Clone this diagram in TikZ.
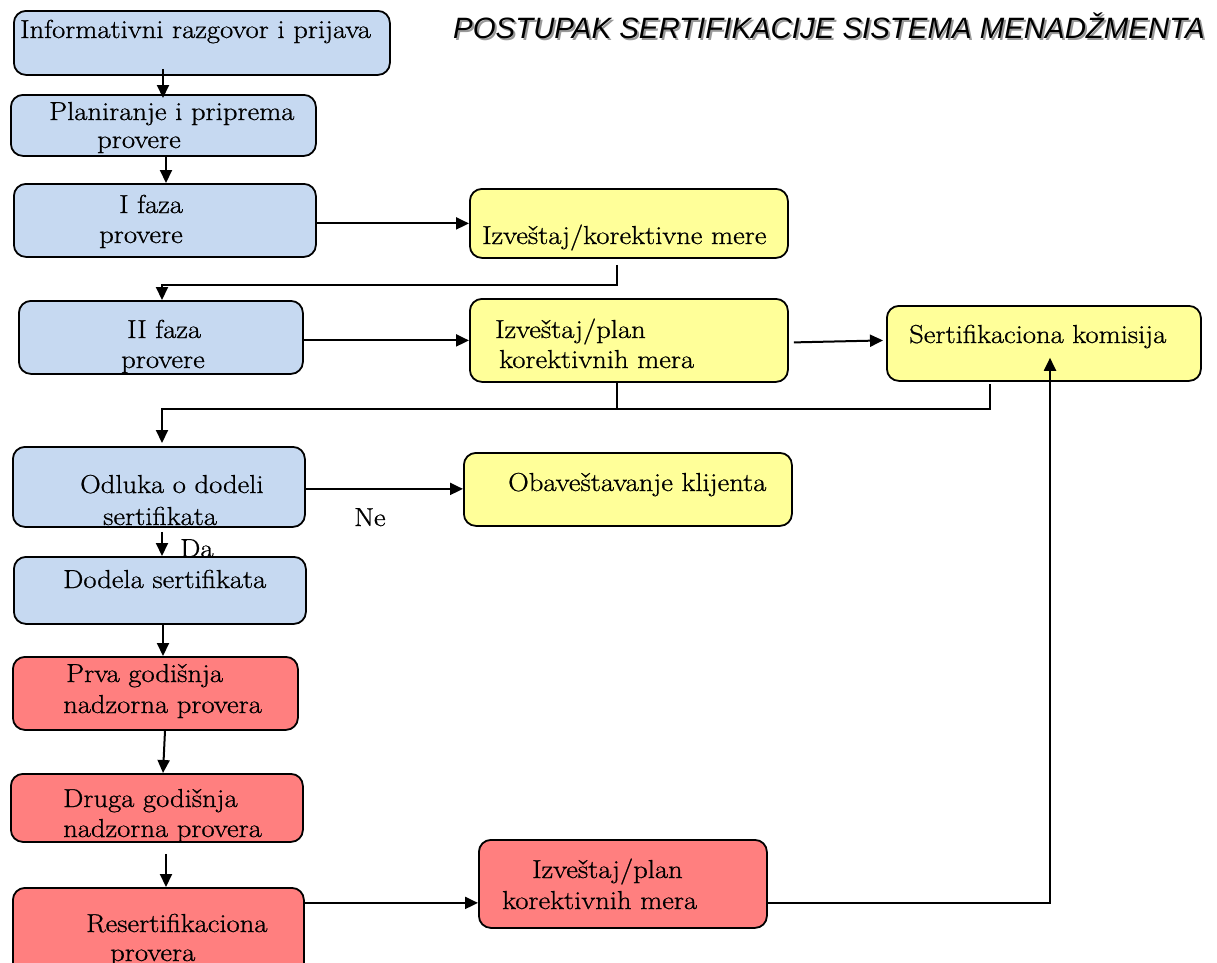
\documentclass[tikz,border=0pt]{standalone}
\usepackage{fontspec}
\usepackage{xcolor}
\usetikzlibrary{arrows.meta}
\setmainfont{Latin Modern Roman}[FakeStretch=1.1,FakeBold=0.8]
\newfontfamily\naslovfont{Liberation Sans}
\definecolor{plava}{HTML}{C6D9F1}
\definecolor{zuta}{HTML}{FFFF99}
\definecolor{crvena}{HTML}{FF7F7F}
\begin{document}
\begin{tikzpicture}[x=1pt,y=-1pt]
      \clip (0,0) rectangle (1217,962);
      % kutije
      \begin{scope}[every node/.style={draw=black,line width=1.8pt,rounded corners=12pt,anchor=north west,inner sep=0pt}]
        \node[fill=plava,minimum width=376pt,minimum height=64pt] (inf) at (13,10) {};
        \node[fill=plava,minimum width=305pt,minimum height=61pt] (pl) at (10,94) {};
        \node[fill=plava,minimum width=302pt,minimum height=73pt] (if1) at (13,183) {};
        \node[fill=zuta,minimum width=318pt,minimum height=69pt] (ik1) at (469,188) {};
        \node[fill=plava,minimum width=284pt,minimum height=73pt] (if2) at (18,300) {};
        \node[fill=zuta,minimum width=318pt,minimum height=83pt] (ik2) at (469,298) {};
        \node[fill=zuta,minimum width=314pt,minimum height=75pt] (sk) at (886,305) {};
        \node[fill=plava,minimum width=292pt,minimum height=80pt] (od) at (12,446) {};
        \node[fill=zuta,minimum width=328pt,minimum height=73pt] (ob) at (463,452) {};
        \node[fill=plava,minimum width=292pt,minimum height=67pt] (dd) at (13,556) {};
        \node[fill=crvena,minimum width=285pt,minimum height=73pt] (pg) at (12,656) {};
        \node[fill=crvena,minimum width=292pt,minimum height=68pt] (dg) at (10,773) {};
        \node[fill=crvena,minimum width=291pt,minimum height=90pt] (rs) at (12,887) {};
        \node[fill=crvena,minimum width=288pt,minimum height=88pt] (rk) at (478,839) {};
      \end{scope}
      % tekst
      \begin{scope}[every node/.style={anchor=base west,inner sep=0pt,font=\fontsize{26}{30}\selectfont}]
        \node (tinf) at (20,38) {Informativni razgovor i prijava};
        \node (tpla) at (49,120) {Planiranje i priprema};
        \node (tplb) at (97,148) {provere};
        \node (tif1a) at (119,213) {I faza};
        \node (tif1b) at (99,243) {provere};
        \node (tik1) at (482,244) {Izveštaj/korektivne mere};
        \node (tif2a) at (127,338) {II faza};
        \node (tif2b) at (121,368) {provere};
        \node (tik2a) at (495,338) {Izveštaj/plan};
        \node (tik2b) at (499,368) {korektivnih mera};
        \node (tsk) at (909,343) {Sertifikaciona komisija};
        \node (toda) at (80,493) {Odluka o dodeli};
        \node (todb) at (103,525) {sertifikata};
        \node (tob) at (508,491) {Obaveštavanje klijenta};
        \node (tne) at (354,526) {Ne};
        \node (tda) at (180,557) {Da};
        \node (tdd) at (63,588) {Dodela sertifikata};
        \node (tpga) at (66,682) {Prva godišnja};
        \node (tpgb) at (63,713) {nadzorna provera};
        \node (tdga) at (63,807) {Druga godišnja};
        \node (tdgb) at (63,837) {nadzorna provera};
        \node (trsa) at (86,932) {Resertifikaciona};
        \node (trsb) at (110,961) {provera};
        \node (trka) at (532,878) {Izveštaj/plan};
        \node (trkb) at (502,909) {korektivnih mera};
      \end{scope}
      % naslov sa senkom
      \begin{scope}[every node/.style={anchor=base west,inner sep=0pt,font=\naslovfont\itshape\fontsize{29.4}{34}\selectfont}]
        \node[text=black!40] (naslovsenka) at (455,40) {POSTUPAK SERTIFIKACIJE SISTEMA MENADŽMENTA};
        \node (naslov) at (453,38) {POSTUPAK SERTIFIKACIJE SISTEMA MENADŽMENTA};
      \end{scope}
      % strelice
      \begin{scope}[line width=2pt,>={Triangle[length=13pt,width=12pt]}]
        \draw[->] ([xshift=150pt,yshift=7pt]inf.south west) -- ([xshift=153pt,yshift=-4pt]pl.north west);
        \draw[->] ([xshift=156pt]pl.south west) -- ([xshift=153pt]if1.north west);
        \draw[->] (if1.east |- ik1.west) -- (ik1.west);
        \draw[->] ([xshift=148pt,yshift=-6pt]ik1.south west) -- ++(0,20) -| ([xshift=144pt]if2.north west);
        \draw[->] (if2.east |- ik2.west) -- (ik2.west);
        \draw[->] ([xshift=5pt,yshift=-2pt]ik2.east) -- ([xshift=-3pt]sk.west |- ik2.east);
        \draw ([xshift=148pt]ik2.south west) -- ++(0,27);
        \draw[->] ([xshift=104pt,yshift=-2pt]sk.south west) -- ++(0,25) -| ([xshift=150pt,yshift=3pt]od.north west);
        \draw[->] ([yshift=-2pt]od.east) -- ([yshift=-2pt]ob.west |- od.east);
        \draw[->] ([xshift=150pt,yshift=-4pt]od.south west) -- ([xshift=149pt]dd.north west);
        \draw[->] ([xshift=150pt]dd.south west) -- ([xshift=151pt]pg.north west);
        \draw[->] ([xshift=153pt]pg.south west) -- ([xshift=153pt]dg.north west);
        \draw[->] ([xshift=156pt,yshift=-11pt]dg.south west) -- ([xshift=154pt]rs.north west);
        \coordinate (rkin) at ([yshift=-19pt]rk.west);
        \draw[->] (rs.east |- rkin) -- (rkin);
        \draw[->] ([yshift=-19pt]rk.east) -| ([xshift=164pt,yshift=24pt]sk.south west);
      \end{scope}
\end{tikzpicture}
\end{document}
